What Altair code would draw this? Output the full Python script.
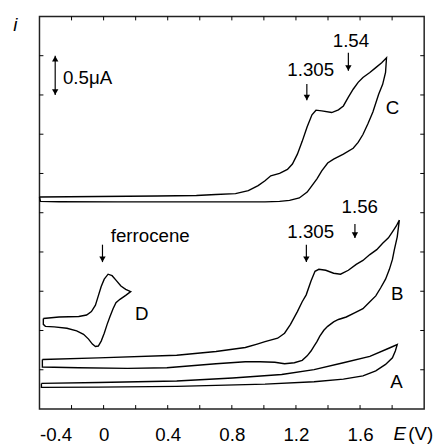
import altair as alt
import pandas as pd

# ---- traces (E in V, i in µA, arbitrary vertical offsets as in the figure) ----
A_E = [-0.388, -0.033, 0.456, 0.805, 1.111, 1.313, 1.496, 1.661, 1.783, 1.832,
       1.820, 1.802, 1.759, 1.698, 1.618, 1.496, 1.313, 1.007, 0.456, -0.033, -0.388, -0.388]
A_i = [0.326, 0.338, 0.357, 0.395, 0.439, 0.501, 0.589, 0.670, 0.777, 0.821,
       0.739, 0.652, 0.568, 0.485, 0.422, 0.380, 0.347, 0.317, 0.288, 0.279, 0.276, 0.326]

B_E = [-0.382, -0.033, 0.456, 0.701, 0.884, 0.958, 1.007, 1.086, 1.129, 1.166,
       1.209, 1.239, 1.264, 1.294, 1.319, 1.343, 1.386, 1.435, 1.478, 1.527,
       1.576, 1.618, 1.661, 1.704, 1.741, 1.777, 1.802, 1.826, 1.845,
       1.832, 1.814, 1.802, 1.783, 1.759, 1.728, 1.698, 1.655, 1.618, 1.569,
       1.514, 1.465, 1.435, 1.398, 1.374, 1.349, 1.331, 1.313, 1.294, 1.270,
       1.239, 1.190, 1.129, 1.068, 0.976, 0.884, 0.701, 0.395, 0.150, -0.155,
       -0.382, -0.382]
B_i = [0.630, 0.652, 0.685, 0.733, 0.783, 0.827, 0.858, 0.902, 0.965, 1.078,
       1.241, 1.366, 1.454, 1.629, 1.754, 1.779, 1.767, 1.729, 1.717, 1.767,
       1.842, 1.892, 1.967, 2.030, 2.112, 2.180, 2.256, 2.331, 2.406,
       2.193, 2.030, 1.905, 1.779, 1.654, 1.541, 1.441, 1.353, 1.278, 1.228,
       1.172, 1.140, 1.109, 1.053, 1.003, 0.927, 0.858, 0.802, 0.739, 0.677,
       0.620, 0.589, 0.576, 0.595, 0.602, 0.602, 0.576, 0.526, 0.518, 0.526,
       0.535, 0.630]

C_E = [-0.400, -0.033, 0.334, 0.579, 0.701, 0.823, 0.903, 0.964, 1.007, 1.043,
       1.098, 1.147, 1.178, 1.209, 1.239, 1.270, 1.300, 1.325, 1.361, 1.423,
       1.465, 1.496, 1.527, 1.557, 1.588, 1.618, 1.661, 1.698, 1.735, 1.765,
       1.759, 1.741, 1.716, 1.680, 1.649, 1.618, 1.588, 1.557, 1.496, 1.435,
       1.398, 1.361, 1.331, 1.300, 1.270, 1.221, 1.160, 1.098, 1.007, 0.579,
       0.089, -0.278, -0.394, -0.400]
C_i = [2.700, 2.707, 2.713, 2.719, 2.732, 2.744, 2.782, 2.845, 2.907, 2.970,
       3.001, 3.051, 3.120, 3.246, 3.409, 3.596, 3.747, 3.806, 3.797, 3.776,
       3.810, 3.860, 3.972, 4.073, 4.160, 4.223, 4.286, 4.348, 4.411, 4.474,
       4.286, 4.135, 4.010, 3.784, 3.634, 3.496, 3.396, 3.321, 3.246, 3.183,
       3.133, 3.033, 2.932, 2.845, 2.763, 2.688, 2.657, 2.644, 2.638, 2.638,
       2.638, 2.640, 2.644, 2.700]

D_E = [-0.376, -0.278, -0.155, -0.106, -0.076, -0.051, -0.033, -0.015, 0.004, 0.028,
       0.053, 0.077, 0.108, 0.138, 0.169, 0.138, 0.102, 0.077, 0.059, 0.040,
       0.022, 0.004, -0.015, -0.033, -0.051, -0.070, -0.094, -0.125, -0.168, -0.229,
       -0.308, -0.363, -0.376, -0.376]
D_i = [1.153, 1.172, 1.178, 1.197, 1.241, 1.322, 1.441, 1.560, 1.654, 1.717,
       1.698, 1.642, 1.566, 1.523, 1.495, 1.447, 1.397, 1.353, 1.278, 1.178,
       1.078, 0.965, 0.865, 0.802, 0.796, 0.827, 0.890, 0.952, 0.996, 1.028,
       1.046, 1.053, 1.078, 1.153]

# ---- axis ticks ----
x_label_values = [-0.4, 0.0, 0.4, 0.8, 1.2, 1.6]
x_minor = [-0.2, 0.0, 0.2, 0.4, 0.6, 0.8, 1.0, 1.2, 1.4, 1.6, 1.8]
y_minor = [0.5, 1.0, 1.5, 2.0, 2.5, 3.0, 3.5, 4.0, 4.5]

# ---- annotations ----
note_text = ["ferrocene", "D", "1.54", "1.305", "C", "1.56", "1.305", "B", "A", "0.5\u03bcA", "(V)"]
note_x = [0.291, 0.238, 1.543, 1.292, 1.802, 1.598, 1.292, 1.832, 1.828, -0.100, 1.978]
note_y = [2.197, 1.203, 4.683, 4.315, 3.835, 2.573, 2.259, 1.466, 0.338, 4.220, -0.317]
ital_text = ["i", "E"]
ital_x = [-0.55, 1.848]
ital_y = [4.89, -0.317]

arrow_x = [-0.007, 1.268, 1.527, 1.265, 1.568]
arrow_y1 = [2.093, 4.139, 4.536, 2.093, 2.356]
arrow_y2 = [1.871, 3.931, 4.307, 1.871, 2.177]

bar_x = [-0.302]
bar_top = [4.5]
bar_bottom = [4.0]

W, H = 391, 399
FONT = "Liberation Sans"
FS = 19


def trace_df(name, E, i):
    return pd.DataFrame({"E": E, "i": i, "trace": name, "k": list(range(len(E)))})


curves = pd.concat([trace_df("A", A_E, A_i), trace_df("B", B_E, B_i),
                    trace_df("C", C_E, C_i), trace_df("D", D_E, D_i)])

xs = alt.Scale(domain=[-0.4, 2.0], nice=False, zero=False)
ys = alt.Scale(domain=[0, 5], nice=False, zero=False)

label_expr = ("datum.value < 0 ? '-' + format(-datum.value, '.1f') : "
              "(datum.value == 0 ? '0' : format(datum.value, '.1f'))")

XAX = alt.Axis(values=x_label_values, labelExpr=label_expr, title=None, grid=False,
               domain=False, ticks=False, tickSize=0, labelPadding=17,
               labelFont=FONT, labelFontSize=19, labelColor="black")


def X(field):
    return alt.X(field, scale=xs, axis=XAX)


def Y(field):
    return alt.Y(field, scale=ys, axis=None)


lines = alt.Chart(curves).mark_line(color="black", strokeWidth=1.4).encode(
    x=X("E:Q"), y=Y("i:Q"), detail="trace:N", order="k:Q")

xt = pd.DataFrame({"E": x_minor})
yt = pd.DataFrame({"i": y_minor})
tick_bottom = alt.Chart(xt).mark_rule(color="black", strokeWidth=1).encode(
    x=X("E:Q"), y=alt.value(H), y2=alt.value(H - 4))
tick_top = alt.Chart(xt).mark_rule(color="black", strokeWidth=1).encode(
    x=X("E:Q"), y=alt.value(0), y2=alt.value(4))
tick_left = alt.Chart(yt).mark_rule(color="black", strokeWidth=1).encode(
    y=Y("i:Q"), x=alt.value(0), x2=alt.value(4))
tick_right = alt.Chart(yt).mark_rule(color="black", strokeWidth=1).encode(
    y=Y("i:Q"), x=alt.value(W - 4), x2=alt.value(W))

arrows_df = pd.DataFrame({"E": arrow_x, "y1": arrow_y1, "y2": arrow_y2})
arrow_shafts = alt.Chart(arrows_df).mark_rule(color="black", strokeWidth=1.2).encode(
    x=X("E:Q"), y=Y("y1:Q"), y2="y2:Q")
arrow_heads = alt.Chart(arrows_df).mark_point(shape="triangle-down", filled=True,
                                              color="black", size=42, opacity=1,
                                              yOffset=-3).encode(
    x=X("E:Q"), y=Y("y2:Q"))

bar_df = pd.DataFrame({"E": bar_x, "top": bar_top, "bottom": bar_bottom})
bar_shaft = alt.Chart(bar_df).mark_rule(color="black", strokeWidth=1.2).encode(
    x=X("E:Q"), y=Y("top:Q"), y2="bottom:Q")
bar_head_top = alt.Chart(bar_df).mark_point(shape="triangle-up", filled=True,
                                            color="black", size=42, opacity=1,
                                            yOffset=3).encode(
    x=X("E:Q"), y=Y("top:Q"))
bar_head_bottom = alt.Chart(bar_df).mark_point(shape="triangle-down", filled=True,
                                               color="black", size=42, opacity=1,
                                               yOffset=-3).encode(
    x=X("E:Q"), y=Y("bottom:Q"))

notes_df = pd.DataFrame({"t": note_text, "E": note_x, "y": note_y})
notes = alt.Chart(notes_df).mark_text(font=FONT, fontSize=FS, color="black",
                                      align="center", baseline="middle").encode(
    x=X("E:Q"), y=Y("y:Q"), text="t:N")

ital_df = pd.DataFrame({"t": ital_text, "E": ital_x, "y": ital_y})
ital = alt.Chart(ital_df).mark_text(font=FONT, fontSize=FS, fontStyle="italic",
                                    color="black", align="center",
                                    baseline="middle").encode(
    x=X("E:Q"), y=Y("y:Q"), text="t:N")

chart = alt.layer(
    lines, tick_bottom, tick_top, tick_left, tick_right,
    arrow_shafts, arrow_heads, bar_shaft, bar_head_top, bar_head_bottom,
    notes, ital,
).properties(
    width=W, height=H,
    autosize=alt.AutoSizeParams(type="none"),
    padding={"left": 32, "top": 5, "right": 11, "bottom": 33},
).configure_view(stroke="#222", strokeWidth=1.5)

chart.save("out.html", embed_options={"renderer": "svg", "actions": False})
